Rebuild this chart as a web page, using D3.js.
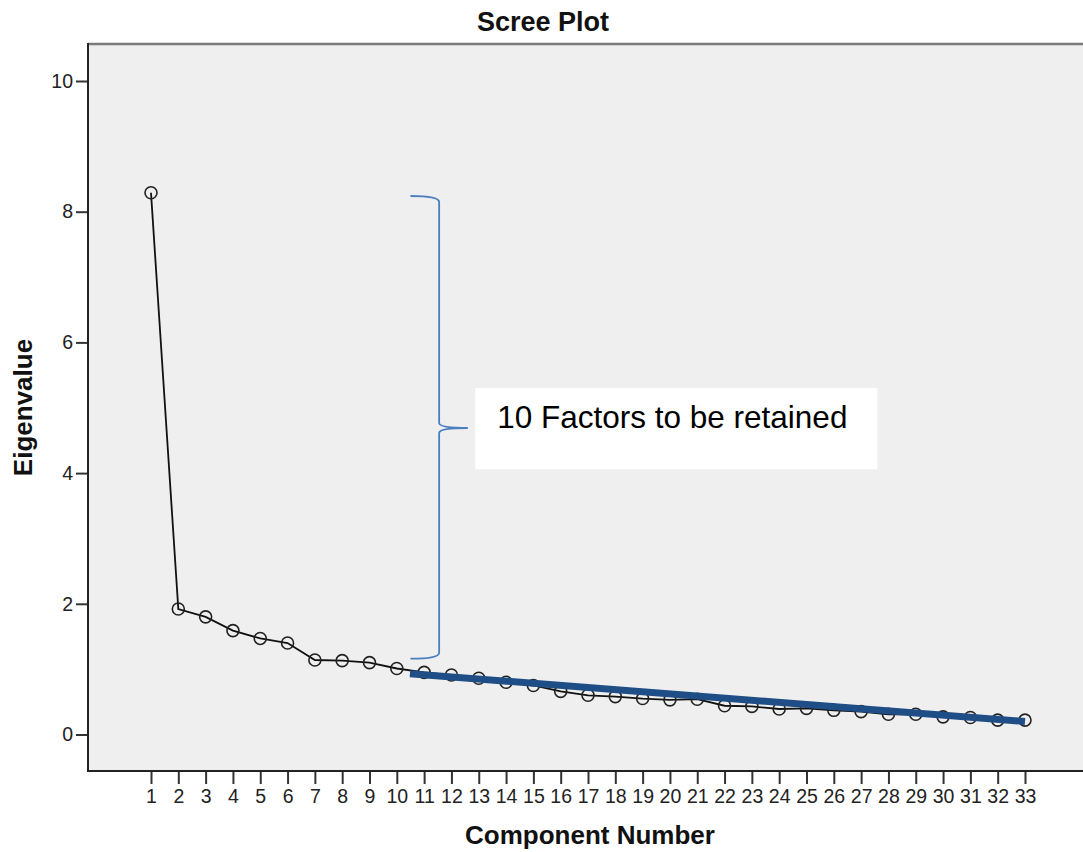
<!DOCTYPE html>
<html>
<head>
<meta charset="utf-8">
<script src="https://cdn.jsdelivr.net/npm/d3@7"></script>
<style>
  body { margin: 0; background: #fff; }
  svg { display: block; font-family: "Liberation Sans", Arial, sans-serif; }
</style>
</head>
<body>
<div id="chart"></div>
<script>
// component numbers and eigenvalues
const components = d3.range(1, 34);
const eigenvalues = [
  8.29, 1.92, 1.80, 1.59, 1.47, 1.40, 1.14, 1.13, 1.10, 1.01,
  0.95, 0.91, 0.86, 0.80, 0.75, 0.66, 0.60, 0.58, 0.55, 0.53,
  0.54, 0.44, 0.43, 0.39, 0.40, 0.37, 0.35, 0.31, 0.31, 0.27,
  0.26, 0.22, 0.22
];
const yTicks = [0, 2, 4, 6, 8, 10];

// "elbow" trend line and brace annotation (data units)
const trendX = [10.48, 33];
const trendY = [0.93, 0.20];
const braceX = [10.5, 11.55, 12.6];   // ends, spine, tip
const braceY = [8.24, 4.69, 1.16];    // top, tip, bottom
const noteText = '10 Factors to be retained';
const noteBox = { x0: 12.87, x1: 27.6, y0: 5.30, y1: 4.06 };

const W = 1083, H = 852;
const frame = { left: 88, top: 44, bottom: 771 };

const svg = d3.select('#chart').append('svg')
  .attr('width', W).attr('height', H);

const x = d3.scaleLinear().domain([1, 33]).range([151, 1025]);
const y = d3.scaleLinear().domain([0, 10]).range([734.5, 81]);

// plot background + frame
svg.append('rect')
  .attr('x', frame.left).attr('y', frame.top)
  .attr('width', W - frame.left + 5).attr('height', frame.bottom - frame.top)
  .attr('fill', '#efefef');
svg.append('line')
  .attr('x1', frame.left).attr('x2', W)
  .attr('y1', frame.top).attr('y2', frame.top)
  .attr('stroke', '#7a7a7a').attr('stroke-width', 2.5);

// axes
const yAxis = d3.axisLeft(y).tickValues(yTicks).tickSize(12).tickPadding(3).tickSizeOuter(0);
const gy = svg.append('g').attr('transform', `translate(${frame.left},0)`).call(yAxis);
gy.select('.domain').remove();
gy.selectAll('.tick line').attr('stroke', '#333').attr('stroke-width', 2);
gy.selectAll('.tick text').attr('font-size', 19.5).attr('fill', '#222')
  .attr('font-family', '"Liberation Sans", Arial, sans-serif');

const xAxis = d3.axisBottom(x).tickValues(components).tickSize(13).tickPadding(5).tickFormat(d3.format('d'));
const gx = svg.append('g').attr('transform', `translate(0,${frame.bottom})`).call(xAxis);
gx.select('.domain').remove();
gx.selectAll('.tick line').attr('stroke', '#333').attr('stroke-width', 2);
gx.selectAll('.tick text').attr('font-size', 19.5).attr('fill', '#222')
  .attr('font-family', '"Liberation Sans", Arial, sans-serif');

svg.append('line')
  .attr('x1', frame.left).attr('x2', frame.left)
  .attr('y1', frame.top - 1).attr('y2', frame.bottom + 1)
  .attr('stroke', '#222').attr('stroke-width', 2);
svg.append('line')
  .attr('x1', frame.left).attr('x2', W)
  .attr('y1', frame.bottom).attr('y2', frame.bottom)
  .attr('stroke', '#222').attr('stroke-width', 2);

// scree line + markers
const pts = components.map((c, i) => [c, eigenvalues[i]]);
svg.append('path')
  .datum(pts)
  .attr('fill', 'none')
  .attr('stroke', '#111')
  .attr('stroke-width', 1.8)
  .attr('d', d3.line().x(d => x(d[0])).y(d => y(d[1])));
svg.append('g').selectAll('circle').data(pts).join('circle')
  .attr('cx', d => x(d[0])).attr('cy', d => y(d[1]))
  .attr('r', 6)
  .attr('fill', 'none')
  .attr('stroke', '#222')
  .attr('stroke-width', 1.6);

// thick trend line over the tail
svg.append('line')
  .attr('x1', x(trendX[0])).attr('y1', y(trendY[0]))
  .attr('x2', x(trendX[1])).attr('y2', y(trendY[1]))
  .attr('stroke', '#1f4e87').attr('stroke-width', 7);

// brace
const bx0 = x(braceX[0]), bx1 = x(braceX[1]), bx2 = x(braceX[2]);
const byT = y(braceY[0]), byM = y(braceY[1]), byB = y(braceY[2]);
const brace = d3.path();
brace.moveTo(bx0, byT);
brace.quadraticCurveTo(bx1, byT, bx1, byT + 6);
brace.lineTo(bx1, byM - 5);
brace.quadraticCurveTo(bx1, byM, bx2, byM);
brace.quadraticCurveTo(bx1, byM, bx1, byM + 5);
brace.lineTo(bx1, byB - 6);
brace.quadraticCurveTo(bx1, byB, bx0, byB);
svg.append('path')
  .attr('d', brace.toString())
  .attr('fill', 'none')
  .attr('stroke', '#4a7ebf')
  .attr('stroke-width', 1.8);

// annotation box
svg.append('rect')
  .attr('x', x(noteBox.x0)).attr('y', y(noteBox.y0))
  .attr('width', x(noteBox.x1) - x(noteBox.x0))
  .attr('height', y(noteBox.y1) - y(noteBox.y0))
  .attr('fill', '#fff');
svg.append('text')
  .attr('x', x(noteBox.x0) + 22).attr('y', byM)
  .attr('font-size', 31.5)
  .attr('fill', '#000')
  .text(noteText);

// titles
svg.append('text')
  .attr('x', 543).attr('y', 31)
  .attr('text-anchor', 'middle')
  .attr('font-size', 27).attr('font-weight', 'bold').attr('fill', '#111')
  .text('Scree Plot');
svg.append('text')
  .attr('transform', `translate(32,${(frame.top + frame.bottom) / 2}) rotate(-90)`)
  .attr('text-anchor', 'middle')
  .attr('font-size', 26).attr('font-weight', 'bold').attr('fill', '#111')
  .text('Eigenvalue');
svg.append('text')
  .attr('x', 590).attr('y', 844)
  .attr('text-anchor', 'middle')
  .attr('font-size', 26).attr('font-weight', 'bold').attr('fill', '#111')
  .text('Component Number');
</script>
</body>
</html>
